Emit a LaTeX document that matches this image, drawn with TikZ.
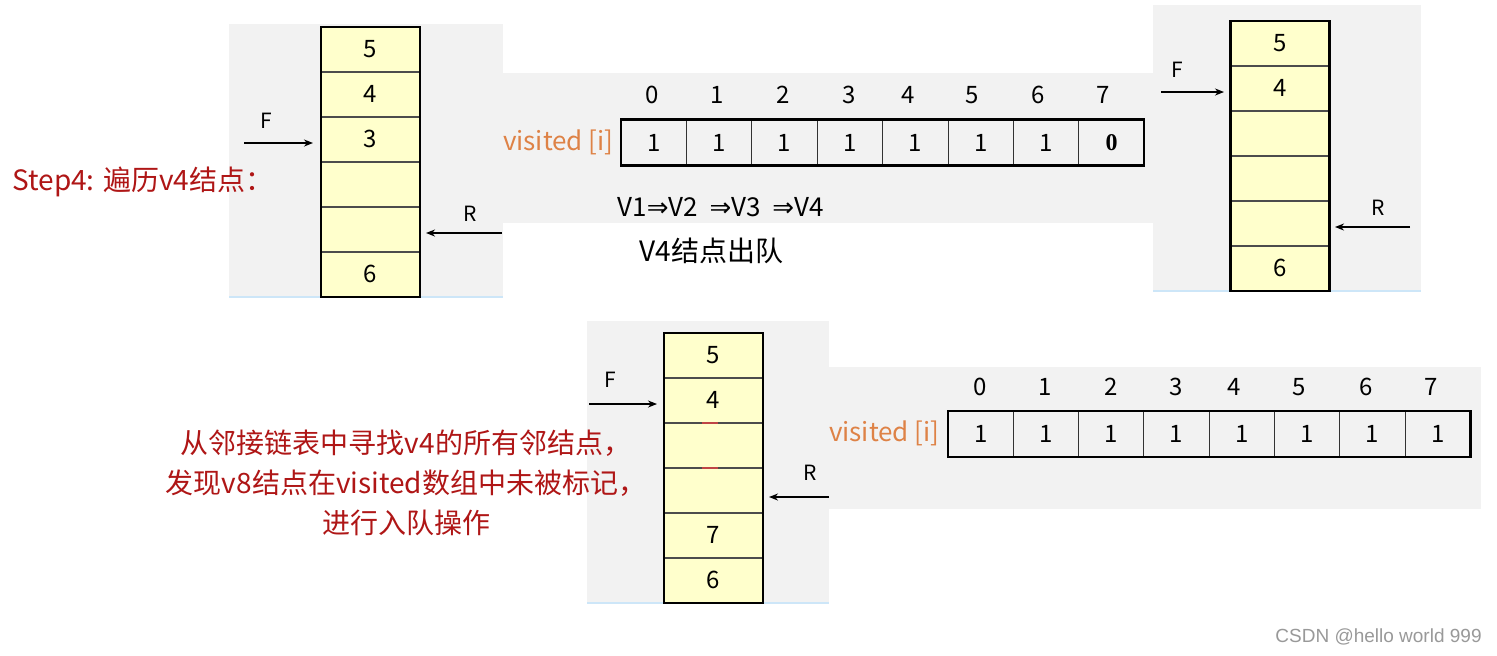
\documentclass[tikz,border=0pt]{standalone}
\usepackage{fontspec}
\setmainfont{Noto Sans CJK SC}
\newfontfamily\wmfont{Liberation Sans}
\newfontfamily\serf{Liberation Serif}
\newfontfamily\symf{DejaVu Sans}
\usetikzlibrary{arrows.meta}
\definecolor{panelgray}{RGB}{242,242,242}
\definecolor{cellyellow}{RGB}{255,255,204}
\definecolor{visorange}{RGB}{222,130,70}
\definecolor{notered}{RGB}{175,22,22}
\definecolor{edgeblue}{RGB}{205,230,248}
\begin{document}
\begin{tikzpicture}[x=0.5pt,y=-0.5pt,
  qcell/.style={draw=black!70,line width=0.7pt,fill=cellyellow,minimum width=49.5pt,minimum height=22.5pt,inner sep=0pt,outer sep=0pt,font=\fontsize{12}{12}\selectfont},
  acell/.style={draw=black!80,line width=0.5pt,minimum width=32.7pt,minimum height=23pt,inner sep=0pt,outer sep=0pt,font=\fontsize{12}{12}\selectfont},
  idx/.style={inner sep=0pt,font=\fontsize{12}{12}\selectfont},
  vislabel/.style={text=visorange,inner sep=0pt,font=\fontsize{13}{13}\selectfont},
  plabel/.style={inner sep=0pt,font=\fontsize{10.5}{10.5}\selectfont},
  parrow/.style={line width=1pt,-{Stealth[length=4.5pt,width=3.5pt]}},
  qborder/.style={draw=black,line width=1.4pt},
  aborder/.style={draw=black,line width=1.2pt},
  panel/.style={fill=panelgray,draw=none},
  panelline/.style={draw=edgeblue,line width=0.6pt},
  redmark/.style={draw=notered!80,line width=1pt},
  note/.style={text=notered,inner sep=0pt,font=\fontsize{14}{20}\selectfont,align=center},
  plain/.style={inner sep=0pt,font=\fontsize{13}{13}\selectfont}]
\useasboundingbox (0,0) rectangle (1497,655);
\fill[white] (0,0) rectangle (1497,655);
% backgrounds
\path[panel] (229,24) rectangle (503,297);
\path[panel] (503,73) rectangle (1153,223);
\path[panel] (1153,5) rectangle (1421,291);
\path[panel] (587,321) rectangle (829,603);
\path[panel] (829,367) rectangle (1481,509);
\draw[panelline] (229,297) -- (503,297);
\draw[panelline] (1153,291) -- (1421,291);
\draw[panelline] (587,603) -- (829,603);

% queue 1 (top left)
\foreach \v [count=\i] in {5,4,3,{},{},6}
  \node[qcell] (qa\i) at (370.5,{49.5+45*(\i-1)}) {\raisebox{1pt}{\v}};
\draw[qborder] (qa1.north west) rectangle (qa6.south east);
% queue 2 (top right)
\foreach \v [count=\i] in {5,4,{},{},{},6}
  \node[qcell] (qb\i) at (1280,{43.5+45*(\i-1)}) {\raisebox{1pt}{\v}};
\draw[qborder] (qb1.north west) rectangle (qb6.south east);
% queue 3 (bottom)
\foreach \v [count=\i] in {5,4,{},{},7,6}
  \node[qcell] (qc\i) at (713.5,{355.5+45*(\i-1)}) {\raisebox{1pt}{\v}};
\draw[qborder] (qc1.north west) rectangle (qc6.south east);
\draw[redmark] ([xshift=-6pt]qc3.north) -- ([xshift=2pt]qc3.north);
\draw[redmark] ([xshift=-6pt]qc4.north) -- ([xshift=2pt]qc4.north);

% F / R pointers
\node[plabel] (fa) at (266,121) {F};
\coordinate (fas) at (244,143); \coordinate (fae) at (313,143);
\draw[parrow] (fas) -- (fae);
\node[plabel] (ra) at (470,214) {R};
\coordinate (ras) at (502,233); \coordinate (rae) at (426,233);
\draw[parrow] (ras) -- (rae);

\node[plabel] (fb) at (1177,70) {F};
\coordinate (fbs) at (1161,92); \coordinate (fbe) at (1224,92);
\draw[parrow] (fbs) -- (fbe);
\node[plabel] (rb) at (1378,208) {R};
\coordinate (rbs) at (1410,227); \coordinate (rbe) at (1335,227);
\draw[parrow] (rbs) -- (rbe);

\node[plabel] (fc) at (610,380) {F};
\coordinate (fcs) at (589,404); \coordinate (fce) at (657,404);
\draw[parrow] (fcs) -- (fce);
\node[plabel] (rc) at (810,473) {R};
\coordinate (rcs) at (829,497); \coordinate (rce) at (769,497);
\draw[parrow] (rcs) -- (rce);

% visited array 1
\foreach \v [count=\i] in {1,1,1,1,1,1,1,{\serf\bfseries 0}}
  \node[acell] (va\i) at ({621+32.7+65.4*(\i-1)},142.5) {\v};
\draw[aborder] (va1.north west) rectangle (va8.south east);
\foreach \x [count=\i from 0] in {652,717,783,849,908,972,1038,1103}
  \node[idx] (ia\i) at (\x,95) {\i};
\node[vislabel,anchor=east] (visa) at (614,142) {visited [i]};

% visited array 2
\foreach \v [count=\i] in {1,1,1,1,1,1,1,1}
  \node[acell] (vb\i) at ({948+32.65+65.3*(\i-1)},434) {\v};
\draw[aborder] (vb1.north west) rectangle (vb8.south east);
\foreach \x [count=\i from 0] in {980,1045,1111,1176,1234,1299,1366,1431}
  \node[idx] (ib\i) at (\x,387) {\i};
\node[vislabel,anchor=east] (visb) at (940,433) {visited [i]};

% texts
\node[plain,anchor=west] (path) at (617,207) {V1{\symf ⇒}V2\ \ {\symf ⇒}V3\ \ {\symf ⇒}V4};
\node[plain,anchor=west,font=\fontsize{14}{14}\selectfont] (deq) at (639,251) {V4结点出队};
\node[note,anchor=west] (step) at (12,182) {Step4: 遍历v4结点：};
\node[note] (desc) at (406,483) {从邻接链表中寻找v4的所有邻结点，\\发现v8结点在visited数组中未被标记，\\进行入队操作};
\node[inner sep=0pt,anchor=east,text=black!40,font=\wmfont\fontsize{9.5}{9.5}\selectfont] (wm) at (1482,637) {CSDN @hello world 999};
\end{tikzpicture}
\end{document}
